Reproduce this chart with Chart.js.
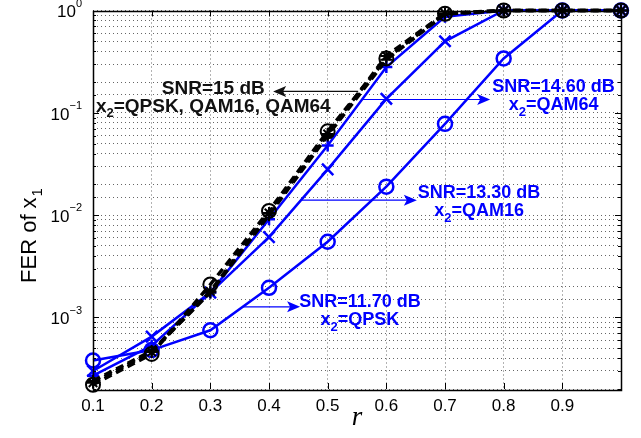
<!DOCTYPE html>
<html>
<head>
<meta charset="utf-8">
<script src="https://cdn.jsdelivr.net/npm/chart.js@4/dist/chart.umd.min.js"></script>
<style>
  html, body { margin: 0; padding: 0; background: #fff; }
</style>
</head>
<body>
<canvas id="ferChart" width="641" height="438"></canvas>
<script>
const FONT = "'Liberation Sans', Arial, Helvetica, sans-serif";

// r values (x axis)
const rValues = [0.1, 0.2, 0.3, 0.4, 0.5, 0.6, 0.7, 0.8, 0.9, 1.0];

// SNR = 15 dB, black dashed curves
const fer15QPSK  = [2.2e-4, 4.4e-4, 2.1e-3, 1.1e-2, 0.066, 0.34, 0.93, 1, 1, 1];
const fer15QAM16 = [2.3e-4, 4.6e-4, 1.8e-3, 1.05e-2, 0.062, 0.36, 0.94, 1, 1, 1];
const fer15QAM64 = [2.4e-4, 4.7e-4, 1.75e-3, 1.0e-2, 0.060, 0.33, 0.92, 1, 1, 1];

// blue curves
const fer1460QAM64 = [2.7e-4, 5.3e-4, 1.75e-3, 9.1e-3, 0.048, 0.28, 0.87, 1, 1, 1];
const fer1330QAM16 = [3.0e-4, 6.5e-4, 1.75e-3, 6.1e-3, 0.028, 0.137, 0.50, 1, 1, 1];
const fer1170QPSK  = [3.8e-4, 4.8e-4, 7.5e-4, 1.95e-3, 5.5e-3, 0.019, 0.078, 0.34, 1, 1];

const xTickLabels = ["0.1", "0.2", "0.3", "0.4", "0.5", "0.6", "0.7", "0.8", "0.9"];
const yTickPowers = [0, -1, -2, -3];

// text + arrows (data coordinates)
const notes = [
  { color: "#111", size: 19, from: [0.552, 0.162], to: [0.407, 0.162], at: [0.305, 0.173],
    lines: [[["SNR=15 dB"]], [["x"], ["2", "sub"], ["=QPSK, QAM16, QAM64"]]] },
  { color: "#0000ff", size: 18, from: [0.558, 0.135], to: [0.777, 0.135], at: [0.885, 0.177],
    lines: [[["SNR=14.60 dB"]], [["x"], ["2", "sub"], ["=QAM64"]]] },
  { color: "#0000ff", size: 18, from: [0.456, 0.014], to: [0.652, 0.014], at: [0.758, 0.0163],
    lines: [[["SNR=13.30 dB"]], [["x"], ["2", "sub"], ["=QAM16"]]] },
  { color: "#0000ff", size: 18, from: [0.356, 1.27e-3], to: [0.453, 1.27e-3], at: [0.555, 1.41e-3],
    lines: [[["SNR=11.70 dB"]], [["x"], ["2", "sub"], ["=QPSK"]]] }
];

function toPoints(values) {
  return rValues.map((r, i) => ({ x: r, y: values[i] }));
}

function blackSet(label, values, style, radius) {
  return {
    label: label, data: toPoints(values),
    borderColor: "#000", borderWidth: 3.5, borderDash: [8, 5],
    pointStyle: style, pointRadius: radius, pointBorderWidth: 2,
    pointBorderColor: "#000", pointBackgroundColor: "rgba(0,0,0,0)",
    tension: 0, clip: false
  };
}

function blueSet(label, values, style, radius) {
  return {
    label: label, data: toPoints(values),
    borderColor: "#0000ff", borderWidth: 2.5,
    pointStyle: style, pointRadius: radius, pointBorderWidth: 2.5,
    pointBorderColor: "#0000ff", pointBackgroundColor: "rgba(0,0,0,0)",
    tension: 0, clip: false
  };
}

function drawRich(ctx, parts, cx, cy, size) {
  const subSize = Math.round(size * 0.7);
  let total = 0;
  parts.forEach(p => {
    ctx.font = "bold " + (p[1] === "sub" ? subSize : size) + "px " + FONT;
    total += ctx.measureText(p[0]).width;
  });
  let x = cx - total / 2;
  parts.forEach(p => {
    const sub = p[1] === "sub";
    ctx.font = "bold " + (sub ? subSize : size) + "px " + FONT;
    ctx.fillText(p[0], x, sub ? cy + 7 : cy);
    x += ctx.measureText(p[0]).width;
  });
}

function drawArrow(ctx, x1, y1, x2, y2, color) {
  const ang = Math.atan2(y2 - y1, x2 - x1);
  const len = 13, half = 5.5, notch = 3;
  ctx.strokeStyle = color;
  ctx.fillStyle = color;
  ctx.lineWidth = 1.2;
  ctx.beginPath();
  ctx.moveTo(x1, y1);
  ctx.lineTo(x2 - Math.cos(ang) * notch, y2 - Math.sin(ang) * notch);
  ctx.stroke();
  ctx.save();
  ctx.translate(x2, y2);
  ctx.rotate(ang);
  ctx.beginPath();
  ctx.moveTo(0, 0);
  ctx.lineTo(-len, -half);
  ctx.lineTo(-len + notch, 0);
  ctx.lineTo(-len, half);
  ctx.closePath();
  ctx.fill();
  ctx.restore();
}

const decorPlugin = {
  id: "decor",
  afterDraw(chart) {
    const ctx = chart.ctx;
    const a = chart.chartArea;
    const xs = chart.scales.x, ys = chart.scales.y;
    ctx.save();

    // box
    ctx.strokeStyle = "#000";
    ctx.lineWidth = 1.5;
    ctx.strokeRect(Math.round(a.left) + 0.5, Math.round(a.top) + 0.5,
      Math.round(a.right - a.left), Math.round(a.bottom - a.top));

    // inward ticks
    ctx.lineWidth = 1;
    ys.ticks.forEach(t => {
      const lg = Math.log10(t.value);
      const major = Math.abs(lg - Math.round(lg)) < 1e-6;
      const len = major ? 6 : 3;
      const y = Math.round(ys.getPixelForValue(t.value)) + 0.5;
      ctx.beginPath();
      ctx.moveTo(a.left, y); ctx.lineTo(a.left + len, y);
      ctx.moveTo(a.right, y); ctx.lineTo(a.right - len, y);
      ctx.stroke();
    });
    xs.ticks.forEach(t => {
      const x = Math.round(xs.getPixelForValue(t.value)) + 0.5;
      ctx.beginPath();
      ctx.moveTo(x, a.bottom); ctx.lineTo(x, a.bottom - 6);
      ctx.moveTo(x, a.top); ctx.lineTo(x, a.top + 6);
      ctx.stroke();
    });

    // y tick labels 10^n
    ctx.fillStyle = "#000";
    ctx.textBaseline = "middle";
    yTickPowers.forEach(p => {
      const y = ys.getPixelForValue(Math.pow(10, p));
      const exp = p === 0 ? "0" : "\u2212" + Math.abs(p);
      ctx.font = "11px " + FONT;
      const ew = ctx.measureText(exp).width;
      const right = a.left - 11;
      ctx.fillText(exp, right - ew, y - 7);
      ctx.font = "17px " + FONT;
      const bw = ctx.measureText("10").width;
      ctx.fillText("10", right - ew - bw, y + 2);
    });

    // y axis title
    ctx.save();
    ctx.translate(30, 236);
    ctx.rotate(-Math.PI / 2);
    ctx.font = "22px " + FONT;
    const main = "FER of x";
    const mw = ctx.measureText(main).width;
    ctx.font = "15px " + FONT;
    const sw = ctx.measureText("1").width;
    const sx = -(mw + sw) / 2;
    ctx.font = "22px " + FONT;
    ctx.fillText(main, sx, 0);
    ctx.font = "15px " + FONT;
    ctx.fillText("1", sx + mw + 1, 8);
    ctx.restore();

    // annotations
    notes.forEach(n => {
      drawArrow(ctx,
        xs.getPixelForValue(n.from[0]), ys.getPixelForValue(n.from[1]),
        xs.getPixelForValue(n.to[0]), ys.getPixelForValue(n.to[1]), n.color);
      ctx.fillStyle = n.color;
      ctx.textBaseline = "middle";
      const cx = xs.getPixelForValue(n.at[0]);
      const cy = ys.getPixelForValue(n.at[1]);
      n.lines.forEach((parts, i) => drawRich(ctx, parts, cx, cy + i * 18, n.size));
    });

    ctx.restore();
  }
};

new Chart(document.getElementById("ferChart"), {
  type: "line",
  data: {
    datasets: [
      blackSet("SNR=15 dB, QPSK", fer15QPSK, "circle", 7),
      blackSet("SNR=15 dB, QAM16", fer15QAM16, "star", 6),
      blackSet("SNR=15 dB, QAM64", fer15QAM64, "cross", 6),
      blueSet("SNR=14.60 dB, QAM64", fer1460QAM64, "cross", 6),
      blueSet("SNR=13.30 dB, QAM16", fer1330QAM16, "crossRot", 8),
      blueSet("SNR=11.70 dB, QPSK", fer1170QPSK, "circle", 7)
    ]
  },
  options: {
    responsive: false,
    animation: false,
    layout: { padding: { top: 10, right: 20, left: 0, bottom: 0 } },
    plugins: { legend: { display: false }, tooltip: { enabled: false } },
    scales: {
      x: {
        type: "linear", min: 0.1, max: 1.0,
        afterFit: s => { s.height = 49; },
        ticks: {
          stepSize: 0.1, padding: 7, color: "#000", maxRotation: 0,
          font: { family: FONT, size: 17 },
          callback: (v, i) => xTickLabels[i] || ""
        },
        grid: { color: "#666", lineWidth: 1, drawTicks: false },
        border: { display: false, dash: [1, 3] },
        title: {
          display: true, text: "r", color: "#000",
          font: { family: "'Liberation Serif', 'Times New Roman', serif", size: 27, style: "italic", lineHeight: 1.2 }
        }
      },
      y: {
        type: "logarithmic", min: 2e-4, max: 1,
        afterFit: s => { s.width = 93; },
        ticks: { display: false },
        grid: { color: "#666", lineWidth: 1, drawTicks: false },
        border: { display: false, dash: [1, 3] }
      }
    }
  },
  plugins: [decorPlugin]
});
</script>
</body>
</html>
